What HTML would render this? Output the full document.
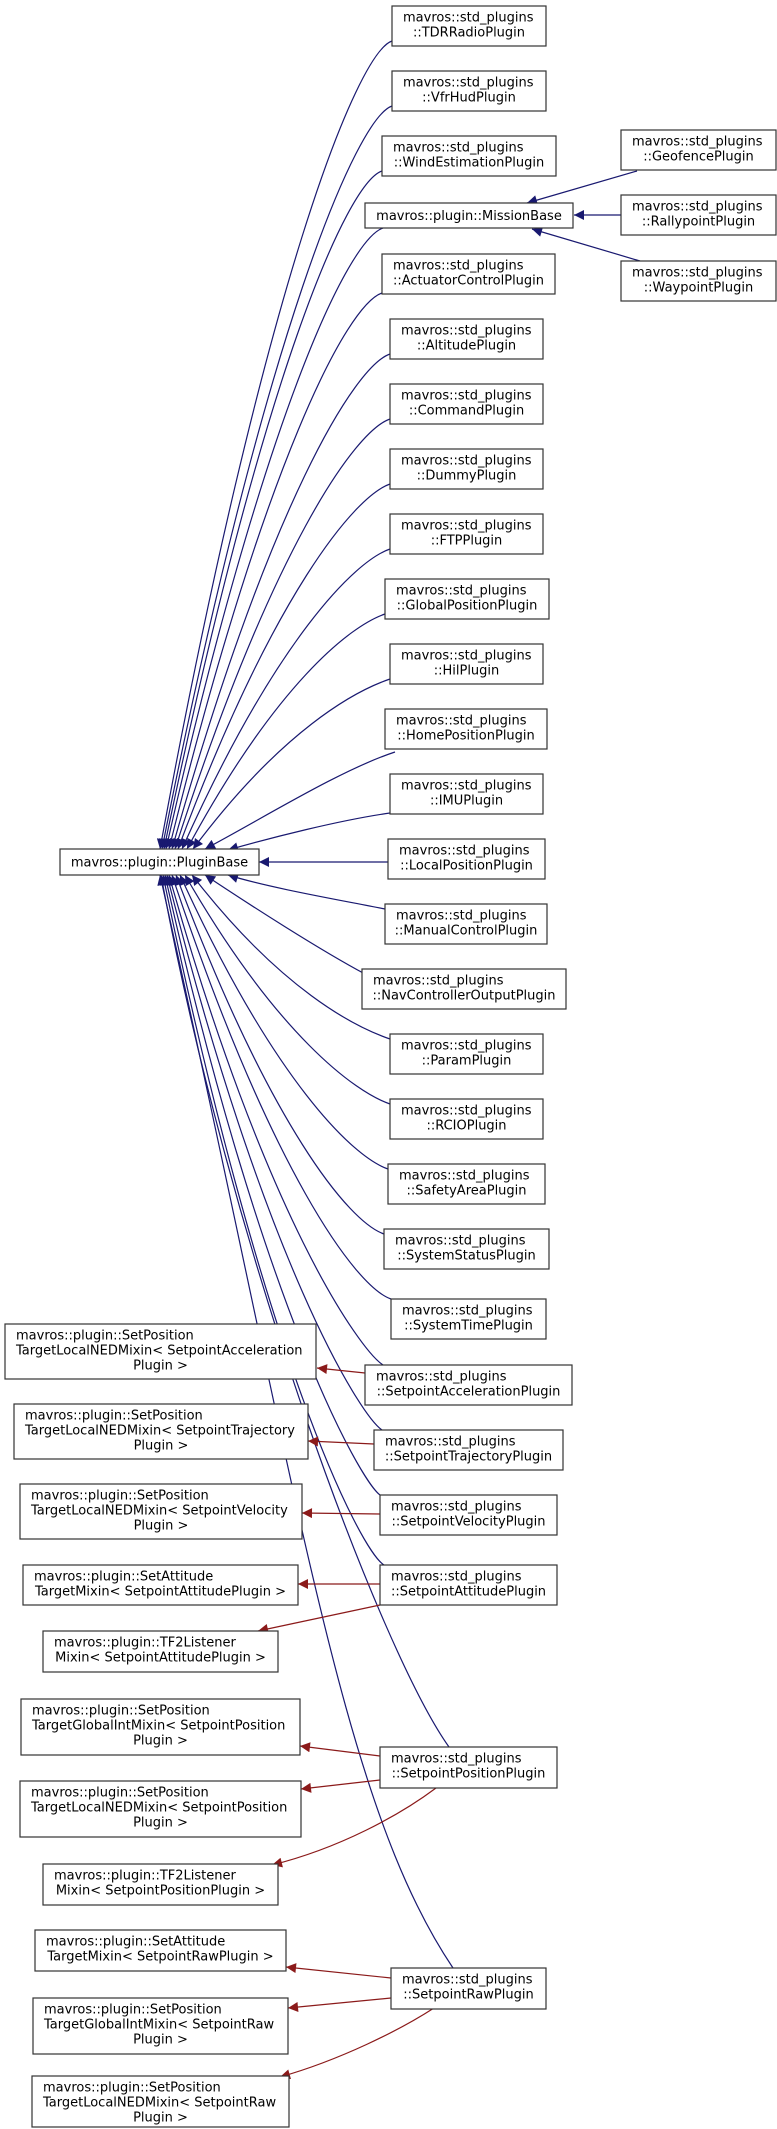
<!DOCTYPE html>
<html><head><meta charset="utf-8"><style>
html,body{margin:0;padding:0;background:#fff;}
svg{display:block;}
text{font-family:"DejaVu Sans","Liberation Sans",sans-serif;font-size:13px;fill:#000;}
rect{fill:#fff;stroke:#333;stroke-width:1.2;}
.b{fill:none;stroke:#191970;stroke-width:1.2;marker-end:url(#ab);}
.r{fill:none;stroke:#8b1a1a;stroke-width:1.2;marker-end:url(#ar);}
</style></head><body>
<svg width="777" height="2129" viewBox="0 0 777 2129" xmlns="http://www.w3.org/2000/svg">
<defs>
<marker id="ab" markerUnits="userSpaceOnUse" viewBox="0 0 10 10" refX="10" refY="5" markerWidth="13" markerHeight="10" orient="auto"><path d="M0,0 L10,5 L0,10 z" fill="#191970"/></marker>
<marker id="ar" markerUnits="userSpaceOnUse" viewBox="0 0 10 10" refX="10" refY="5" markerWidth="13" markerHeight="10" orient="auto"><path d="M0,0 L10,5 L0,10 z" fill="#8b1a1a"/></marker>
</defs>

<!-- blue edges -->
<path class="b" d="M392 41 C357 53,264 283,160 849"/>
<path class="b" d="M392 106 C357 118,265 329,162 849"/>
<path class="b" d="M382 171 C347 183,262 374,164 849"/>
<path class="b" d="M383 228 C348 240,264 414,166 849"/>
<path class="b" d="M382 293 C347 305,265 460,169 849"/>
<path class="b" d="M390 354 C355 366,270 502,172 849"/>
<path class="b" d="M390 419 C355 431,272 548,175 849"/>
<path class="b" d="M390 484 C355 496,273 594,178 849"/>
<path class="b" d="M390 549 C355 561,276 639,182 849"/>
<path class="b" d="M385 614 C350 626,276 684,187 849"/>
<path class="b" d="M390 679 C355 691,282 730,193 849"/>
<path class="b" d="M395 752 C340 770,260 820,205 849"/>
<path class="b" d="M390 813 C340 820,270 838,228 850"/>
<path class="b" d="M388 862 L259 862"/>
<path class="b" d="M385 909 C340 900,270 888,228 875"/>
<path class="b" d="M365 974 C320 950,250 905,205 875"/>
<path class="b" d="M390 1039 C355 1027,281 990,192 875"/>
<path class="b" d="M390 1104 C355 1092,277 1035,185 875"/>
<path class="b" d="M388 1169 C353 1157,274 1081,180 875"/>
<path class="b" d="M384 1234 C349 1222,270 1126,176 875"/>
<path class="b" d="M391 1299 C356 1287,271 1172,172 875"/>
<path class="b" d="M383 1365 C360 1350,265 1218,169 875"/>
<path class="b" d="M382 1430 C360 1415,264 1263,167 875"/>
<path class="b" d="M380 1495 C360 1480,262 1309,165 875"/>
<path class="b" d="M384 1565 C360 1550,262 1358,163 875"/>
<path class="b" d="M449 1747 C380 1650,230 1250,161 875"/>
<path class="b" d="M453 1968 C340 1800,300 1500,160 875"/>
<!-- mission edges -->
<path class="b" d="M637 171 L527 203"/>
<path class="b" d="M621 215 L574 215"/>
<path class="b" d="M640 261 L532 229"/>
<!-- red edges -->
<path class="r" d="M365 1373 L317 1368"/>
<path class="r" d="M374 1444 L308 1441"/>
<path class="r" d="M380 1514 L302 1513"/>
<path class="r" d="M380 1584 L298 1584"/>
<path class="r" d="M380 1605 L258 1631"/>
<path class="r" d="M380 1756 L300 1746"/>
<path class="r" d="M380 1780 L301 1789"/>
<path class="r" d="M436 1788 C400 1815,340 1848,272 1865"/>
<path class="r" d="M391 1978 L286 1967"/>
<path class="r" d="M391 1998 L288 2008"/>
<path class="r" d="M434 2008 C400 2030,340 2060,280 2077"/>

<!-- PluginBase -->
<rect x="60" y="849" width="199" height="26"/>
<text x="159.5" y="866.5" text-anchor="middle">mavros::plugin::PluginBase</text>

<!-- MissionBase -->
<rect x="365" y="203" width="208" height="25"/>
<text x="469" y="220" text-anchor="middle">mavros::plugin::MissionBase</text>

<!-- right column boxes -->
<g>
<rect x="392" y="6" width="154" height="40"/><text x="403" y="21.5">mavros::std_plugins</text><text x="469" y="36.5" text-anchor="middle">::TDRRadioPlugin</text>
<rect x="392" y="71" width="154" height="40"/><text x="403" y="86.5">mavros::std_plugins</text><text x="469" y="101.5" text-anchor="middle">::VfrHudPlugin</text>
<rect x="382" y="136" width="174" height="40"/><text x="393" y="151.5">mavros::std_plugins</text><text x="469" y="166.5" text-anchor="middle">::WindEstimationPlugin</text>
<rect x="382" y="254" width="173" height="40"/><text x="393" y="269.5">mavros::std_plugins</text><text x="468.5" y="284.5" text-anchor="middle">::ActuatorControlPlugin</text>
<rect x="390" y="319" width="153" height="40"/><text x="401" y="334.5">mavros::std_plugins</text><text x="466.5" y="349.5" text-anchor="middle">::AltitudePlugin</text>
<rect x="390" y="384" width="153" height="40"/><text x="401" y="399.5">mavros::std_plugins</text><text x="466.5" y="414.5" text-anchor="middle">::CommandPlugin</text>
<rect x="390" y="449" width="153" height="40"/><text x="401" y="464.5">mavros::std_plugins</text><text x="466.5" y="479.5" text-anchor="middle">::DummyPlugin</text>
<rect x="390" y="514" width="153" height="40"/><text x="401" y="529.5">mavros::std_plugins</text><text x="466.5" y="544.5" text-anchor="middle">::FTPPlugin</text>
<rect x="385" y="579" width="164" height="40"/><text x="396" y="594.5">mavros::std_plugins</text><text x="467" y="609.5" text-anchor="middle">::GlobalPositionPlugin</text>
<rect x="390" y="644" width="153" height="40"/><text x="401" y="659.5">mavros::std_plugins</text><text x="466.5" y="674.5" text-anchor="middle">::HilPlugin</text>
<rect x="385" y="709" width="162" height="40"/><text x="396" y="724.5">mavros::std_plugins</text><text x="466" y="739.5" text-anchor="middle">::HomePositionPlugin</text>
<rect x="390" y="774" width="153" height="40"/><text x="401" y="789.5">mavros::std_plugins</text><text x="466.5" y="804.5" text-anchor="middle">::IMUPlugin</text>
<rect x="388" y="839" width="157" height="40"/><text x="399" y="854.5">mavros::std_plugins</text><text x="466.5" y="869.5" text-anchor="middle">::LocalPositionPlugin</text>
<rect x="385" y="904" width="162" height="40"/><text x="396" y="919.5">mavros::std_plugins</text><text x="466" y="934.5" text-anchor="middle">::ManualControlPlugin</text>
<rect x="362" y="969" width="204" height="40"/><text x="373" y="984.5">mavros::std_plugins</text><text x="464" y="999.5" text-anchor="middle">::NavControllerOutputPlugin</text>
<rect x="390" y="1034" width="153" height="40"/><text x="401" y="1049.5">mavros::std_plugins</text><text x="466.5" y="1064.5" text-anchor="middle">::ParamPlugin</text>
<rect x="390" y="1099" width="153" height="40"/><text x="401" y="1114.5">mavros::std_plugins</text><text x="466.5" y="1129.5" text-anchor="middle">::RCIOPlugin</text>
<rect x="388" y="1164" width="157" height="40"/><text x="399" y="1179.5">mavros::std_plugins</text><text x="466.5" y="1194.5" text-anchor="middle">::SafetyAreaPlugin</text>
<rect x="384" y="1229" width="165" height="40"/><text x="395" y="1244.5">mavros::std_plugins</text><text x="466.5" y="1259.5" text-anchor="middle">::SystemStatusPlugin</text>
<rect x="391" y="1299" width="155" height="40"/><text x="402" y="1314.5">mavros::std_plugins</text><text x="468.5" y="1329.5" text-anchor="middle">::SystemTimePlugin</text>
<rect x="365" y="1365" width="207" height="40"/><text x="376" y="1380.5">mavros::std_plugins</text><text x="468.5" y="1395.5" text-anchor="middle">::SetpointAccelerationPlugin</text>
<rect x="374" y="1430" width="189" height="40"/><text x="385" y="1445.5">mavros::std_plugins</text><text x="468.5" y="1460.5" text-anchor="middle">::SetpointTrajectoryPlugin</text>
<rect x="380" y="1495" width="177" height="40"/><text x="391" y="1510.5">mavros::std_plugins</text><text x="468.5" y="1525.5" text-anchor="middle">::SetpointVelocityPlugin</text>
<rect x="380" y="1565" width="177" height="40"/><text x="391" y="1580.5">mavros::std_plugins</text><text x="468.5" y="1595.5" text-anchor="middle">::SetpointAttitudePlugin</text>
<rect x="380" y="1747" width="177" height="41"/><text x="391" y="1762.5">mavros::std_plugins</text><text x="468.5" y="1777.5" text-anchor="middle">::SetpointPositionPlugin</text>
<rect x="391" y="1968" width="155" height="41"/><text x="402" y="1983.5">mavros::std_plugins</text><text x="468.5" y="1998.5" text-anchor="middle">::SetpointRawPlugin</text>
</g>

<!-- mission children -->
<rect x="621" y="130" width="155" height="40"/><text x="632" y="145.5">mavros::std_plugins</text><text x="698.5" y="160.5" text-anchor="middle">::GeofencePlugin</text>
<rect x="621" y="195" width="155" height="40"/><text x="632" y="210.5">mavros::std_plugins</text><text x="698.5" y="225.5" text-anchor="middle">::RallypointPlugin</text>
<rect x="621" y="261" width="155" height="40"/><text x="632" y="276.5">mavros::std_plugins</text><text x="698.5" y="291.5" text-anchor="middle">::WaypointPlugin</text>

<!-- left mixin boxes -->
<rect x="5" y="1324" width="311" height="55"/><text x="16" y="1339.5">mavros::plugin::SetPosition</text><text x="16" y="1354.5">TargetLocalNEDMixin&lt; SetpointAcceleration</text><text x="160.5" y="1369.5" text-anchor="middle">Plugin &gt;</text>
<rect x="14" y="1404" width="294" height="55"/><text x="25" y="1419.5">mavros::plugin::SetPosition</text><text x="25" y="1434.5">TargetLocalNEDMixin&lt; SetpointTrajectory</text><text x="161" y="1449.5" text-anchor="middle">Plugin &gt;</text>
<rect x="20" y="1484" width="282" height="55"/><text x="31" y="1499.5">mavros::plugin::SetPosition</text><text x="31" y="1514.5">TargetLocalNEDMixin&lt; SetpointVelocity</text><text x="161" y="1529.5" text-anchor="middle">Plugin &gt;</text>
<rect x="23" y="1565" width="275" height="40"/><text x="34" y="1580.5">mavros::plugin::SetAttitude</text><text x="160.5" y="1595.5" text-anchor="middle">TargetMixin&lt; SetpointAttitudePlugin &gt;</text>
<rect x="43" y="1631" width="235" height="41"/><text x="54" y="1646.5">mavros::plugin::TF2Listener</text><text x="160.5" y="1661.5" text-anchor="middle">Mixin&lt; SetpointAttitudePlugin &gt;</text>
<rect x="21" y="1699" width="279" height="56"/><text x="32" y="1714.5">mavros::plugin::SetPosition</text><text x="32" y="1729.5">TargetGlobalIntMixin&lt; SetpointPosition</text><text x="160.5" y="1744.5" text-anchor="middle">Plugin &gt;</text>
<rect x="20" y="1781" width="281" height="56"/><text x="31" y="1796.5">mavros::plugin::SetPosition</text><text x="31" y="1811.5">TargetLocalNEDMixin&lt; SetpointPosition</text><text x="160.5" y="1826.5" text-anchor="middle">Plugin &gt;</text>
<rect x="43" y="1864" width="235" height="41"/><text x="54" y="1879.5">mavros::plugin::TF2Listener</text><text x="160.5" y="1894.5" text-anchor="middle">Mixin&lt; SetpointPositionPlugin &gt;</text>
<rect x="35" y="1930" width="251" height="41"/><text x="46" y="1945.5">mavros::plugin::SetAttitude</text><text x="160.5" y="1960.5" text-anchor="middle">TargetMixin&lt; SetpointRawPlugin &gt;</text>
<rect x="33" y="1998" width="255" height="56"/><text x="44" y="2013.5">mavros::plugin::SetPosition</text><text x="44" y="2028.5">TargetGlobalIntMixin&lt; SetpointRaw</text><text x="160.5" y="2043.5" text-anchor="middle">Plugin &gt;</text>
<rect x="32" y="2076" width="257" height="51"/><text x="43" y="2091.5">mavros::plugin::SetPosition</text><text x="43" y="2106.5">TargetLocalNEDMixin&lt; SetpointRaw</text><text x="160.5" y="2121.5" text-anchor="middle">Plugin &gt;</text>
</svg>
</body></html>
